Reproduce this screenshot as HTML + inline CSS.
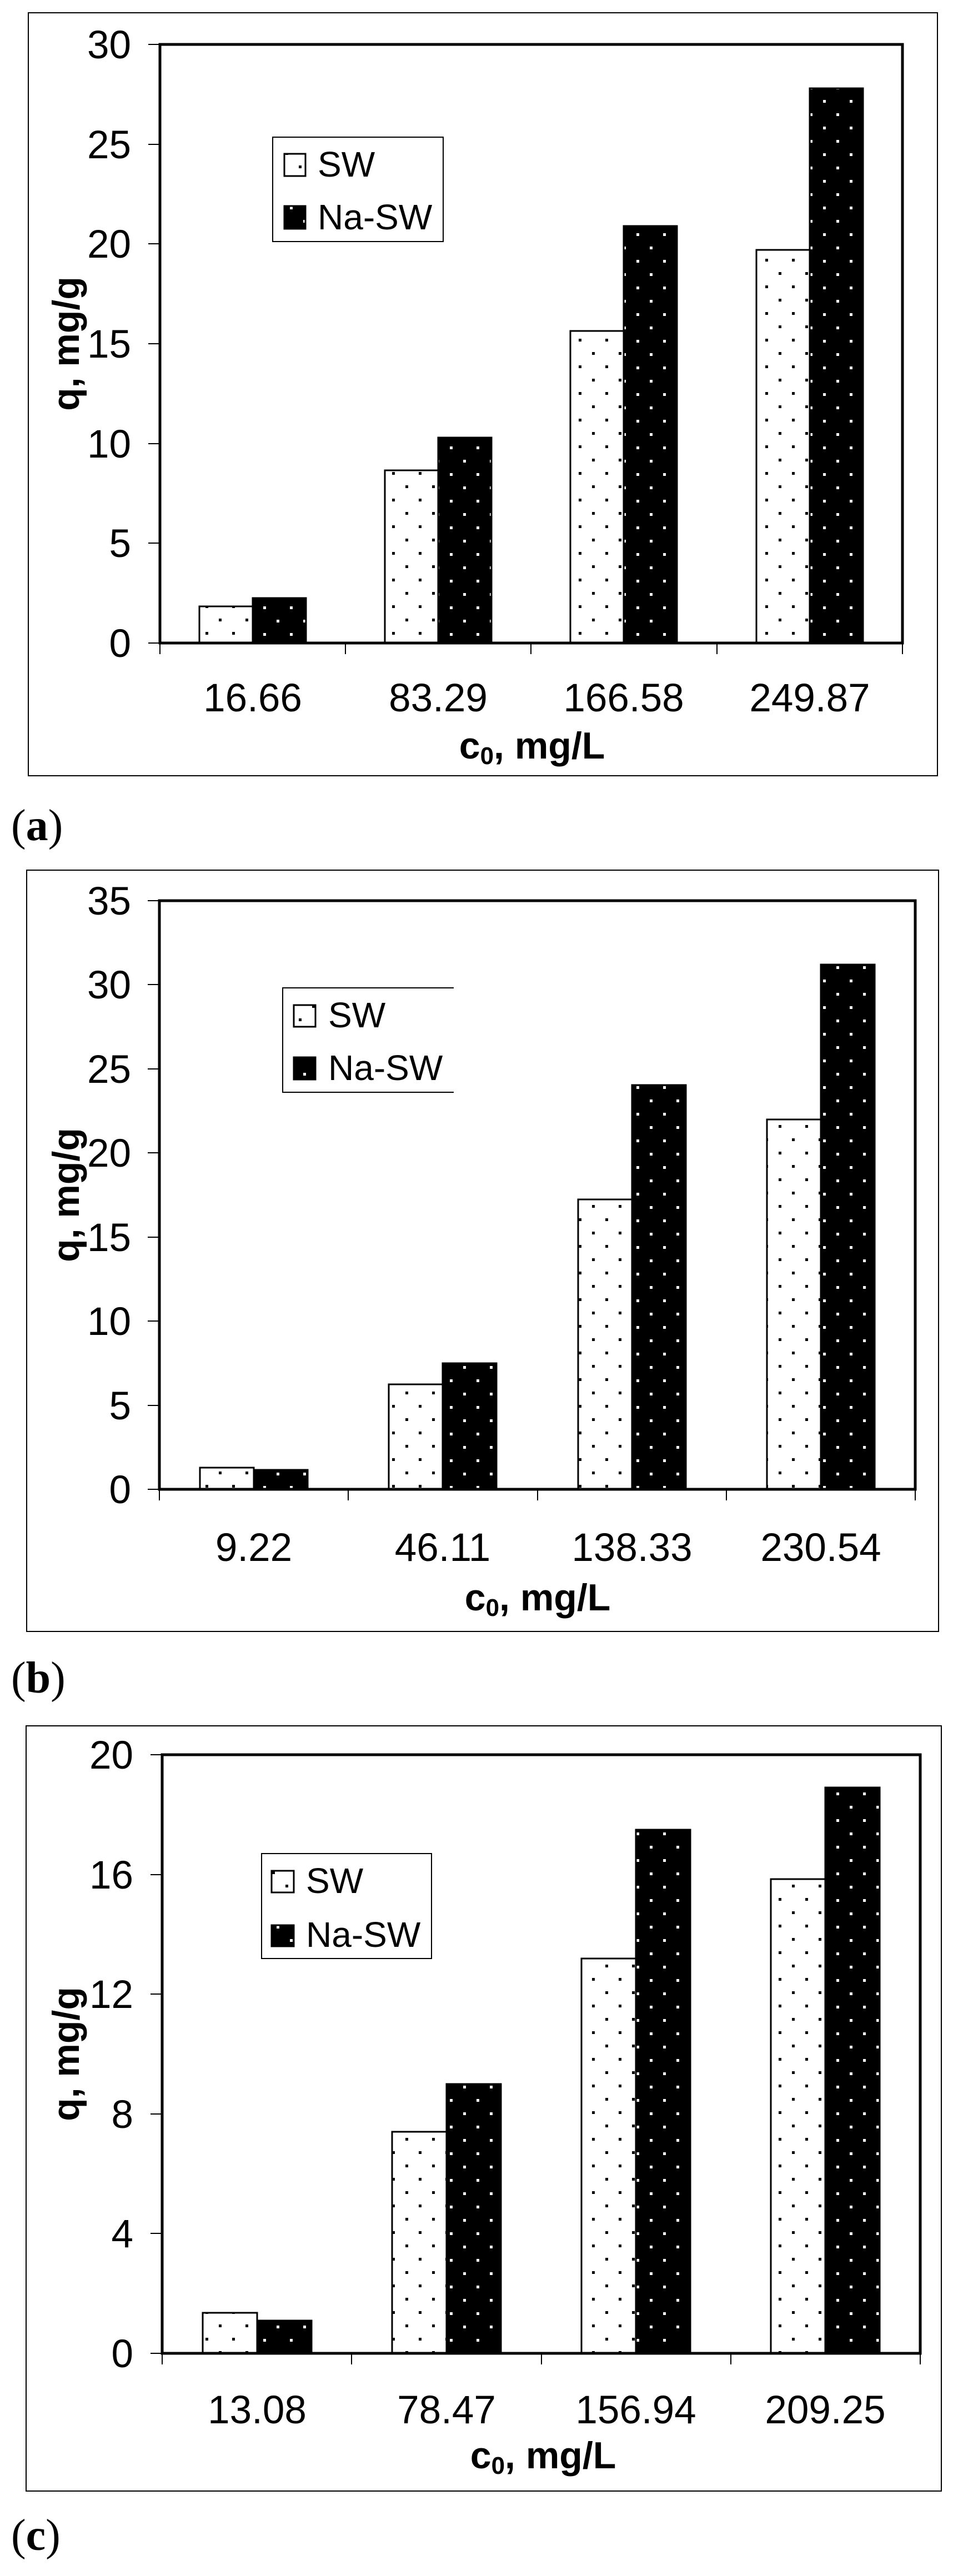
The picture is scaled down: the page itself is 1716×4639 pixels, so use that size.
<!DOCTYPE html>
<html><head><meta charset="utf-8"><style>
html,body{margin:0;padding:0;background:#fff;}
svg{display:block;}
.t{font-family:"Liberation Sans",Arial,sans-serif;font-size:71px;fill:#000;}
.lg{font-family:"Liberation Sans",Arial,sans-serif;font-size:64px;fill:#000;}
.b{font-family:"Liberation Sans",Arial,sans-serif;font-size:68px;font-weight:bold;fill:#000;}
.p{font-family:"Liberation Serif","Times New Roman",serif;font-size:80px;fill:#000;}
</style></head><body>
<svg width="1716" height="4639" viewBox="0 0 1716 4639" xmlns="http://www.w3.org/2000/svg">
<defs>
<pattern id="sw" patternUnits="userSpaceOnUse" width="48" height="48">
<rect width="48" height="48" fill="#fff"/>
<rect x="10" y="10" width="5" height="5" fill="#000"/>
<rect x="34" y="34" width="5" height="5" fill="#000"/>
</pattern>
<pattern id="na" patternUnits="userSpaceOnUse" width="48" height="48">
<rect width="48" height="48" fill="#000"/>
<rect x="18" y="12" width="5" height="5" fill="#fff"/>
<rect x="42" y="36" width="5" height="5" fill="#fff"/>
</pattern>
</defs>
<rect width="1716" height="4639" fill="#fff"/>

<!-- ===== Chart (a) ===== -->
<rect x="51" y="23" width="1637" height="1374" fill="none" stroke="#000" stroke-width="2"/>
<g stroke="#000" stroke-width="3" fill="none">
<rect x="359" y="1092" width="96" height="66" fill="url(#sw)"/>
<rect x="455" y="1077" width="96" height="81" fill="url(#na)"/>
<rect x="693" y="847" width="96" height="311" fill="url(#sw)"/>
<rect x="789" y="788" width="96" height="370" fill="url(#na)"/>
<rect x="1027" y="596" width="96" height="562" fill="url(#sw)"/>
<rect x="1123" y="407" width="96" height="751" fill="url(#na)"/>
<rect x="1362" y="450" width="96" height="708" fill="url(#sw)"/>
<rect x="1458" y="159" width="96" height="999" fill="url(#na)"/>
</g>
<rect x="288" y="80" width="1337" height="1078" fill="none" stroke="#000" stroke-width="5"/>
<g stroke="#000" stroke-width="2">
<line x1="267" y1="1158" x2="288" y2="1158"/><line x1="267" y1="978" x2="288" y2="978"/><line x1="267" y1="799" x2="288" y2="799"/><line x1="267" y1="619" x2="288" y2="619"/><line x1="267" y1="439" x2="288" y2="439"/><line x1="267" y1="260" x2="288" y2="260"/><line x1="267" y1="80" x2="288" y2="80"/>
<line x1="288" y1="1158" x2="288" y2="1178"/><line x1="622" y1="1158" x2="622" y2="1178"/><line x1="956" y1="1158" x2="956" y2="1178"/><line x1="1291" y1="1158" x2="1291" y2="1178"/><line x1="1625" y1="1158" x2="1625" y2="1178"/>
</g>
<g class="t" text-anchor="end">
<text x="236" y="1183">0</text><text x="236" y="1003">5</text><text x="236" y="824">10</text><text x="236" y="644">15</text><text x="236" y="464">20</text><text x="236" y="285">25</text><text x="236" y="105">30</text>
</g>
<g class="t" text-anchor="middle">
<text x="455" y="1281">16.66</text><text x="789" y="1281">83.29</text><text x="1123" y="1281">166.58</text><text x="1458" y="1281">249.87</text>
</g>
<text class="b" x="958" y="1366" text-anchor="middle">c<tspan font-size="44" dy="10">0</tspan><tspan dy="-10">, mg/L</tspan></text>
<text class="b" x="142" y="619" text-anchor="middle" transform="rotate(-90 142 619)">q, mg/g</text>
<rect x="491" y="247" width="307" height="188" fill="#fff" stroke="#000" stroke-width="2"/>
<rect x="512" y="277" width="38" height="40" fill="url(#sw)" stroke="#000" stroke-width="3"/>
<rect x="512" y="371" width="38" height="41" fill="url(#na)" stroke="#000" stroke-width="3"/>
<text class="lg" x="572" y="318">SW</text><text class="lg" x="572" y="413">Na-SW</text>
<text class="p" x="20" y="1513">(<tspan font-weight="bold">a</tspan>)</text>

<!-- ===== Chart (b) ===== -->
<rect x="48" y="1567" width="1642" height="1371" fill="none" stroke="#000" stroke-width="2"/>
<g stroke="#000" stroke-width="3">
<rect x="360" y="2643" width="97" height="39" fill="url(#sw)"/>
<rect x="457" y="2647" width="97" height="35" fill="url(#na)"/>
<rect x="700" y="2493" width="97" height="189" fill="url(#sw)"/>
<rect x="797" y="2455" width="97" height="227" fill="url(#na)"/>
<rect x="1041" y="2160" width="97" height="522" fill="url(#sw)"/>
<rect x="1138" y="1954" width="97" height="728" fill="url(#na)"/>
<rect x="1381" y="2016" width="97" height="666" fill="url(#sw)"/>
<rect x="1478" y="1737" width="97" height="945" fill="url(#na)"/>
</g>
<rect x="287" y="1622" width="1361" height="1060" fill="none" stroke="#000" stroke-width="5"/>
<g stroke="#000" stroke-width="2">
<line x1="266" y1="2682" x2="287" y2="2682"/><line x1="266" y1="2531" x2="287" y2="2531"/><line x1="266" y1="2379" x2="287" y2="2379"/><line x1="266" y1="2228" x2="287" y2="2228"/><line x1="266" y1="2076" x2="287" y2="2076"/><line x1="266" y1="1925" x2="287" y2="1925"/><line x1="266" y1="1773" x2="287" y2="1773"/><line x1="266" y1="1622" x2="287" y2="1622"/>
<line x1="287" y1="2682" x2="287" y2="2702"/><line x1="627" y1="2682" x2="627" y2="2702"/><line x1="968" y1="2682" x2="968" y2="2702"/><line x1="1308" y1="2682" x2="1308" y2="2702"/><line x1="1648" y1="2682" x2="1648" y2="2702"/>
</g>
<g class="t" text-anchor="end">
<text x="236" y="2707">0</text><text x="236" y="2556">5</text><text x="236" y="2404">10</text><text x="236" y="2253">15</text><text x="236" y="2101">20</text><text x="236" y="1950">25</text><text x="236" y="1798">30</text><text x="236" y="1647">35</text>
</g>
<g class="t" text-anchor="middle">
<text x="457" y="2811">9.22</text><text x="797" y="2811">46.11</text><text x="1138" y="2811">138.33</text><text x="1478" y="2811">230.54</text>
</g>
<text class="b" x="968" y="2900" text-anchor="middle">c<tspan font-size="44" dy="10">0</tspan><tspan dy="-10">, mg/L</tspan></text>
<text class="b" x="142" y="2152" text-anchor="middle" transform="rotate(-90 142 2152)">q, mg/g</text>
<rect x="509" y="1779" width="308" height="188" fill="#fff" stroke="none"/>
<polyline points="817,1779 509,1779 509,1967 817,1967" fill="none" stroke="#000" stroke-width="2"/>
<rect x="529" y="1810" width="39" height="39" fill="url(#sw)" stroke="#000" stroke-width="3"/>
<rect x="529" y="1904" width="39" height="40" fill="url(#na)" stroke="#000" stroke-width="3"/>
<text class="lg" x="591" y="1850">SW</text><text class="lg" x="591" y="1945">Na-SW</text>
<text class="p" x="20" y="3048">(<tspan font-weight="bold">b</tspan>)</text>

<!-- ===== Chart (c) ===== -->
<rect x="47" y="3108" width="1648" height="1378" fill="none" stroke="#000" stroke-width="2"/>
<g stroke="#000" stroke-width="3">
<rect x="365" y="4165" width="98" height="73" fill="url(#sw)"/>
<rect x="463" y="4179" width="98" height="59" fill="url(#na)"/>
<rect x="706" y="3839" width="98" height="399" fill="url(#sw)"/>
<rect x="804" y="3753" width="98" height="485" fill="url(#na)"/>
<rect x="1047" y="3527" width="98" height="711" fill="url(#sw)"/>
<rect x="1145" y="3295" width="98" height="943" fill="url(#na)"/>
<rect x="1388" y="3384" width="98" height="854" fill="url(#sw)"/>
<rect x="1486" y="3219" width="98" height="1019" fill="url(#na)"/>
</g>
<rect x="292" y="3160" width="1365" height="1078" fill="none" stroke="#000" stroke-width="5"/>
<g stroke="#000" stroke-width="2">
<line x1="271" y1="4238" x2="292" y2="4238"/><line x1="271" y1="4022" x2="292" y2="4022"/><line x1="271" y1="3807" x2="292" y2="3807"/><line x1="271" y1="3591" x2="292" y2="3591"/><line x1="271" y1="3376" x2="292" y2="3376"/><line x1="271" y1="3160" x2="292" y2="3160"/>
<line x1="292" y1="4238" x2="292" y2="4258"/><line x1="633" y1="4238" x2="633" y2="4258"/><line x1="975" y1="4238" x2="975" y2="4258"/><line x1="1316" y1="4238" x2="1316" y2="4258"/><line x1="1657" y1="4238" x2="1657" y2="4258"/>
</g>
<g class="t" text-anchor="end">
<text x="240" y="4263">0</text><text x="240" y="4047">4</text><text x="240" y="3832">8</text><text x="240" y="3616">12</text><text x="240" y="3401">16</text><text x="240" y="3185">20</text>
</g>
<g class="t" text-anchor="middle">
<text x="463" y="4364">13.08</text><text x="804" y="4364">78.47</text><text x="1145" y="4364">156.94</text><text x="1486" y="4364">209.25</text>
</g>
<text class="b" x="978" y="4445" text-anchor="middle">c<tspan font-size="44" dy="10">0</tspan><tspan dy="-10">, mg/L</tspan></text>
<text class="b" x="142" y="3699" text-anchor="middle" transform="rotate(-90 142 3699)">q, mg/g</text>
<rect x="471" y="3338" width="306" height="189" fill="#fff" stroke="#000" stroke-width="2"/>
<rect x="489" y="3369" width="40" height="39" fill="url(#sw)" stroke="#000" stroke-width="3"/>
<rect x="489" y="3467" width="40" height="38" fill="url(#na)" stroke="#000" stroke-width="3"/>
<text class="lg" x="551" y="3409">SW</text><text class="lg" x="551" y="3506">Na-SW</text>
<text class="p" x="20" y="4592">(<tspan font-weight="bold">c</tspan>)</text>
</svg>
</body></html>
